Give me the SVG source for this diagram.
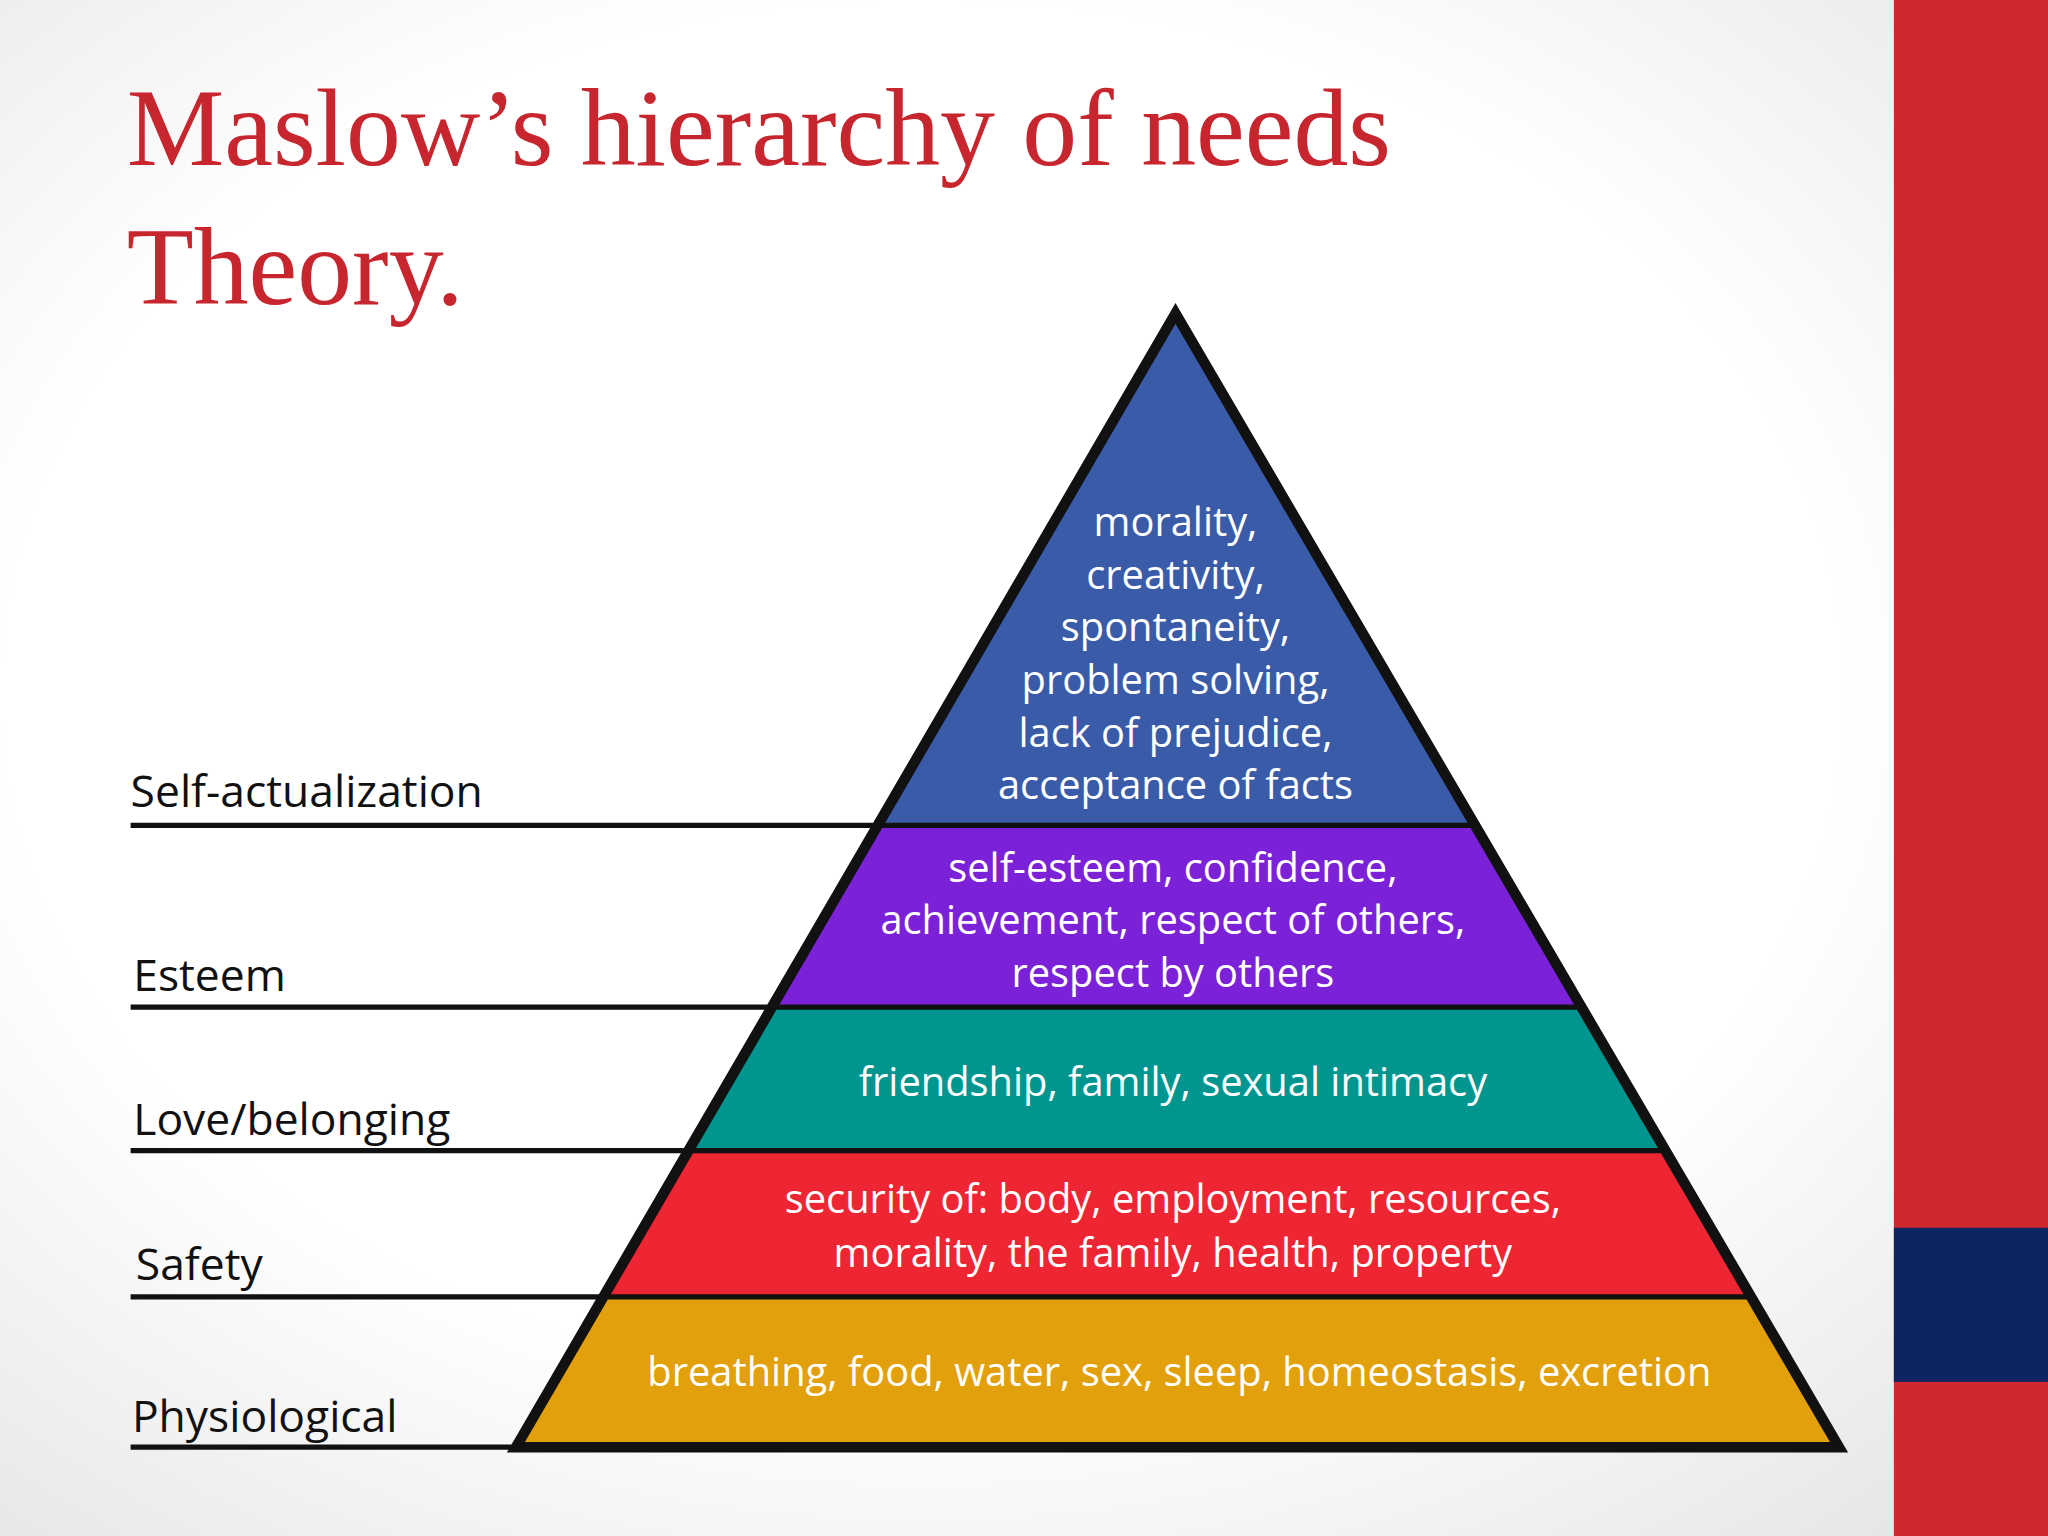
<svg xmlns="http://www.w3.org/2000/svg" width="2048" height="1536" viewBox="0 0 2048 1536">
<defs>
<radialGradient id="bg" cx="0.45" cy="0.45" r="0.75"><stop offset="0.6" stop-color="#ffffff"/><stop offset="1" stop-color="#e4e4e4"/></radialGradient>
<style>
.t{font-family:"Open Sans","DejaVu Sans",sans-serif;font-size:30.5px;fill:#fff;text-anchor:middle}
.l{font-family:"Open Sans","DejaVu Sans",sans-serif;font-size:34px;fill:#111}
.ln{stroke:#111;stroke-width:4;fill:none}
.ttl{font-family:"Liberation Serif","DejaVu Serif",serif;font-size:84px;fill:#C8262E}
</style>
</defs>
<rect width="2048" height="1536" fill="url(#bg)"/>
<g transform="scale(1.30612)">
<rect x="1450" y="0" width="118" height="1176" fill="#D0282F"/>
<rect x="1450" y="940" width="118" height="118" fill="#0D2560"/>
<text class="ttl" x="97" y="126">Maslow’s hierarchy of needs</text>
<text class="ttl" x="97" y="233">Theory.</text>
<g id="level-self-actualization"><polygon points="900,240 1129,632 672,632" fill="#3A5BA8"/>
<text class="t" x="900" y="410">morality,</text><text class="t" x="900" y="451">creativity,</text><text class="t" x="900" y="491">spontaneity,</text><text class="t" x="900" y="531">problem solving,</text><text class="t" x="900" y="572">lack of prejudice,</text><text class="t" x="900" y="612">acceptance of facts</text></g>
<g id="level-esteem"><polygon points="672,632 1129,632 1211,771 591,771" fill="#7B22D9"/>
<text class="t" x="898" y="675">self-esteem, confidence,</text><text class="t" x="898" y="715">achievement, respect of others,</text><text class="t" x="898" y="756">respect by others</text></g>
<g id="level-love"><polygon points="591,771 1211,771 1275,881 527,881" fill="#00958F"/>
<text class="t" x="898" y="839">friendship, family, sexual intimacy</text></g>
<g id="level-safety"><polygon points="527,881 1275,881 1341,993 462,993" fill="#EE2533"/>
<text class="t" x="898" y="929">security of: body, employment, resources,</text><text class="t" x="898" y="970">morality, the family, health, property</text></g>
<g id="level-physiological"><polygon points="462,993 1341,993 1408,1108 395,1108" fill="#E2A00C"/>
<text class="t" x="903" y="1061">breathing, food, water, sex, sleep, homeostasis, excretion</text></g>
<g id="connectors">
<polygon points="900,240 1408,1108 395,1108" fill="none" stroke="#111" stroke-width="8" stroke-linejoin="miter"/>
<line class="ln" x1="100" y1="632" x2="1129" y2="632"/>
<line class="ln" x1="100" y1="771" x2="1211" y2="771"/>
<line class="ln" x1="100" y1="881" x2="1275" y2="881"/>
<line class="ln" x1="100" y1="993" x2="1341" y2="993"/>
<line class="ln" x1="100" y1="1108" x2="395" y2="1108"/>
</g>
<text class="l" x="100" y="618">Self-actualization</text>
<text class="l" x="102" y="759">Esteem</text>
<text class="l" x="102" y="869">Love/belonging</text>
<text class="l" x="104" y="980">Safety</text>
<text class="l" x="101" y="1096">Physiological</text>
</g>
</svg>
